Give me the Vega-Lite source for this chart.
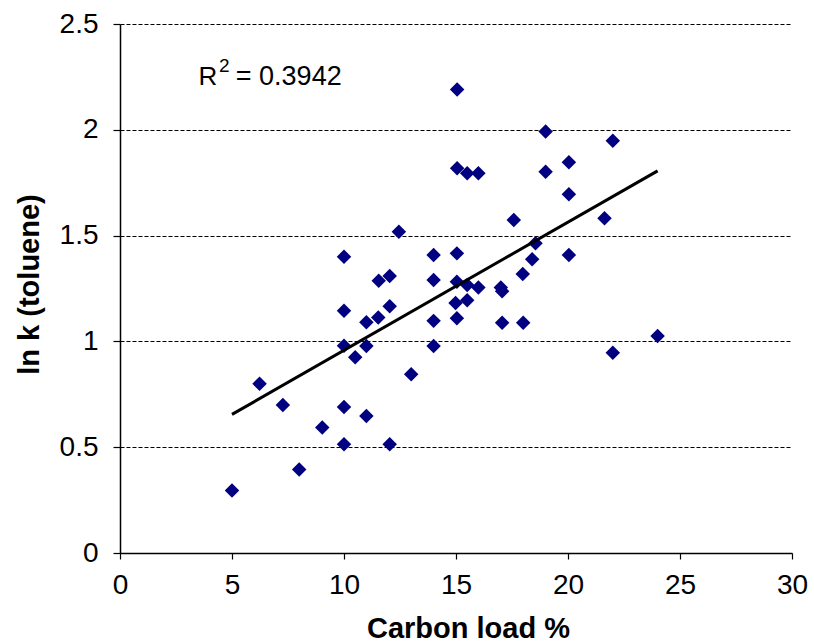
{
  "$schema": "https://vega.github.io/schema/vega-lite/v6.json",
  "width": 672,
  "height": 529,
  "autosize": {"type": "none"},
  "padding": {"left": 120, "top": 24, "right": 22, "bottom": 89},
  "background": "white",
  "config": {"view": {"stroke": null}, "font": "Liberation Sans"},
  "datasets": {
    "points": [
      {"carbon": 5.0, "lnk": 0.295},
      {"carbon": 6.23, "lnk": 0.8},
      {"carbon": 7.27, "lnk": 0.7},
      {"carbon": 8.0, "lnk": 0.395},
      {"carbon": 9.03, "lnk": 0.593},
      {"carbon": 10.0, "lnk": 0.514},
      {"carbon": 10.0, "lnk": 0.69},
      {"carbon": 10.0, "lnk": 0.98},
      {"carbon": 10.0, "lnk": 1.145},
      {"carbon": 10.0, "lnk": 1.4},
      {"carbon": 10.5, "lnk": 0.925},
      {"carbon": 11.0, "lnk": 0.978},
      {"carbon": 11.0, "lnk": 0.647},
      {"carbon": 11.0, "lnk": 1.09},
      {"carbon": 11.53, "lnk": 1.113},
      {"carbon": 11.55, "lnk": 1.287},
      {"carbon": 12.04, "lnk": 1.309},
      {"carbon": 12.04, "lnk": 1.166},
      {"carbon": 12.04, "lnk": 0.514},
      {"carbon": 12.45, "lnk": 1.518},
      {"carbon": 13.0, "lnk": 0.845},
      {"carbon": 14.0, "lnk": 0.978},
      {"carbon": 14.0, "lnk": 1.097},
      {"carbon": 14.0, "lnk": 1.29},
      {"carbon": 14.0, "lnk": 1.408},
      {"carbon": 15.05, "lnk": 2.19},
      {"carbon": 15.05, "lnk": 1.818},
      {"carbon": 15.5, "lnk": 1.795},
      {"carbon": 16.0, "lnk": 1.795},
      {"carbon": 15.04, "lnk": 1.416},
      {"carbon": 15.04, "lnk": 1.282},
      {"carbon": 14.98, "lnk": 1.182},
      {"carbon": 15.04, "lnk": 1.109},
      {"carbon": 15.5, "lnk": 1.266},
      {"carbon": 15.5, "lnk": 1.195},
      {"carbon": 16.0, "lnk": 1.255},
      {"carbon": 17.0, "lnk": 1.255},
      {"carbon": 17.06, "lnk": 1.237},
      {"carbon": 17.06, "lnk": 1.088},
      {"carbon": 18.0, "lnk": 1.088},
      {"carbon": 17.98, "lnk": 1.318},
      {"carbon": 18.4, "lnk": 1.388},
      {"carbon": 18.55, "lnk": 1.464},
      {"carbon": 17.58, "lnk": 1.574},
      {"carbon": 20.04, "lnk": 1.408},
      {"carbon": 20.04, "lnk": 1.695},
      {"carbon": 20.04, "lnk": 1.847},
      {"carbon": 19.0, "lnk": 1.802},
      {"carbon": 19.0, "lnk": 1.992},
      {"carbon": 21.63, "lnk": 1.582},
      {"carbon": 22.0, "lnk": 1.948},
      {"carbon": 22.0, "lnk": 0.946},
      {"carbon": 24.0, "lnk": 1.025}
    ],
    "trend": [
      {"carbon": 5.0, "lnk": 0.655},
      {"carbon": 24.0, "lnk": 1.806}
    ],
    "noteR": [{"carbon": 3.5, "lnk": 2.212, "label": "R"}],
    "noteSup": [{"carbon": 4.42, "lnk": 2.272, "label": "2"}],
    "noteVal": [{"carbon": 5.17, "lnk": 2.212, "label": "= 0.3942"}]
  },
  "encoding": {
    "x": {
      "field": "carbon",
      "type": "quantitative",
      "scale": {"domain": [0, 30], "nice": false, "zero": false},
      "axis": {
        "title": "Carbon load %",
        "values": [0, 5, 10, 15, 20, 25, 30],
        "format": "~g",
        "grid": false,
        "domainColor": "black",
        "domainWidth": 1.5,
        "tickColor": "black",
        "tickSize": 6,
        "tickWidth": 1.2,
        "labelFlush": false,
        "labelOverlap": false,
        "labelFont": "Liberation Sans",
        "labelFontSize": 28,
        "labelColor": "black",
        "labelPadding": 12,
        "titleFont": "Liberation Sans",
        "titleFontSize": 29,
        "titleFontWeight": "bold",
        "titleColor": "black",
        "titleX": 348,
        "titleY": 84,
        "titleAlign": "center",
        "titleBaseline": "alphabetic"
      }
    },
    "y": {
      "field": "lnk",
      "type": "quantitative",
      "scale": {"domain": [0, 2.5], "nice": false, "zero": false},
      "axis": {
        "title": "ln k (toluene)",
        "values": [0, 0.5, 1, 1.5, 2, 2.5],
        "format": "~g",
        "grid": true,
        "gridColor": "black",
        "gridDash": [4, 2],
        "gridWidth": 1,
        "gridOpacity": 1,
        "domainColor": "black",
        "domainWidth": 1.5,
        "tickColor": "black",
        "tickSize": 7,
        "tickWidth": 1.2,
        "labelOverlap": false,
        "labelFont": "Liberation Sans",
        "labelFontSize": 28,
        "labelColor": "black",
        "labelPadding": 15,
        "titleFont": "Liberation Sans",
        "titleFontSize": 29,
        "titleFontWeight": "bold",
        "titleColor": "black",
        "titleX": -82,
        "titleY": 260,
        "titleAngle": -90,
        "titleAlign": "center",
        "titleBaseline": "alphabetic"
      }
    }
  },
  "layer": [
    {
      "data": {"name": "points"},
      "mark": {"type": "point", "shape": "diamond", "filled": true, "size": 210, "color": "#000080", "opacity": 1}
    },
    {
      "data": {"name": "trend"},
      "mark": {"type": "line", "color": "black", "strokeWidth": 3}
    },
    {
      "data": {"name": "noteR"},
      "mark": {"type": "text", "align": "left", "baseline": "alphabetic", "font": "Liberation Sans", "fontSize": 26, "color": "black"},
      "encoding": {"text": {"field": "label"}}
    },
    {
      "data": {"name": "noteSup"},
      "mark": {"type": "text", "align": "left", "baseline": "alphabetic", "font": "Liberation Sans", "fontSize": 19, "color": "black"},
      "encoding": {"text": {"field": "label"}}
    },
    {
      "data": {"name": "noteVal"},
      "mark": {"type": "text", "align": "left", "baseline": "alphabetic", "font": "Liberation Sans", "fontSize": 27, "color": "black"},
      "encoding": {"text": {"field": "label"}}
    }
  ]
}
